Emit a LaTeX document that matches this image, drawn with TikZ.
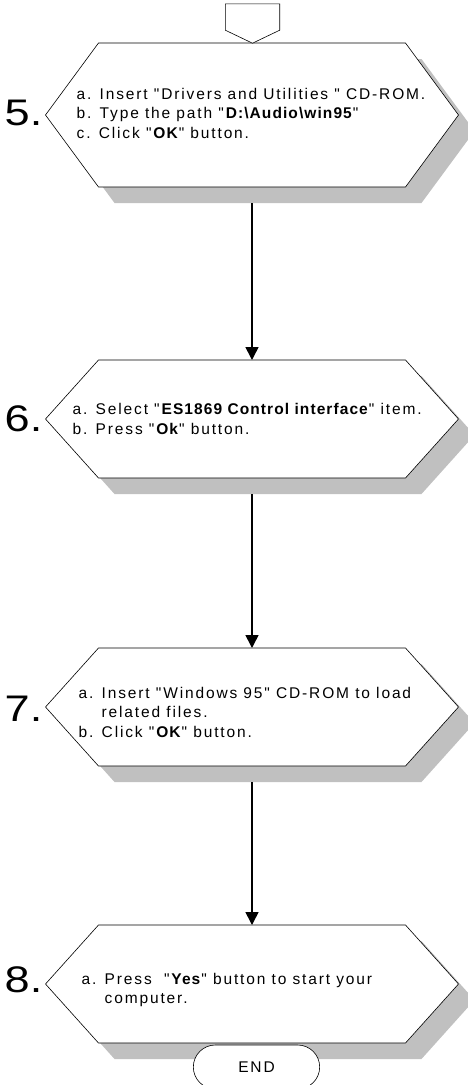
\documentclass[tikz,border=0pt]{standalone}
\usepackage{fontspec}
\setmainfont{Liberation Sans}
\newfontfamily\stepnumfont[FakeStretch=1.22]{Liberation Sans}
\newfontfamily\steptextfont[LetterSpace=12,BoldFeatures={LetterSpace=7}]{Liberation Sans}
\usetikzlibrary{arrows.meta, positioning, calc, backgrounds, shapes.misc}
\definecolor{shadowgray}{RGB}{192,192,192}
\tikzset{
  hexnode/.style={rectangle, minimum width=413bp, inner sep=0pt, outer sep=0pt},
  steptext/.style={anchor=west, align=left, inner sep=0pt,
    font=\steptextfont\fontsize{15.5bp}{19.5bp}\selectfont},
  stepnum/.style={anchor=east, inner sep=0pt,
    font=\stepnumfont\fontsize{37bp}{37bp}\selectfont},
  endnode/.style={rounded rectangle, draw, fill=white, minimum width=133bp,
    minimum height=44bp, line width=0.6bp,
    font=\steptextfont\fontsize{15.5bp}{17bp}\selectfont},
  frame/.style={draw, fill=white, line width=0.6bp},
  flowarrow/.style={-{Triangle[width=13bp,length=13bp]}, line width=1.6bp}
}
% hexagon outline round a node, shifted by #2
\newcommand{\hexoutline}[2]{($(#1.west)+#2$)
  -- ($(#1.north west)+(53bp,0bp)+#2$) -- ($(#1.north east)+(-53bp,0bp)+#2$)
  -- ($(#1.east)+#2$)
  -- ($(#1.south east)+(-53bp,0bp)+#2$) -- ($(#1.south west)+(53bp,0bp)+#2$)
  -- cycle}

\begin{document}
\begin{tikzpicture}[x=1bp, y=-1bp]
  \useasboundingbox (0,0) rectangle (468,1085);

  % off-page entry
  \node[inner sep=0pt, minimum width=54bp, minimum height=39bp] (entry) at (252.5,23.5) {};
  \draw[frame] (entry.north west) -- (entry.north east)
    -- ([yshift=13bp]entry.south east) -- (entry.south)
    -- ([yshift=13bp]entry.south west) -- cycle;

  % steps
  \node[hexnode, minimum height=144bp] (hex5) at (252,115) {};
  \node[hexnode, minimum height=118bp] (hex6) at (252,419) {};
  \node[hexnode, minimum height=118bp] (hex7) at (252,707) {};
  \node[hexnode, minimum height=118bp] (hex8) at (252,984) {};

  \begin{scope}[on background layer]
    \foreach \h in {hex5,hex6,hex7,hex8}{
      \fill[shadowgray] \hexoutline{\h}{(16bp,-16bp)};
      \draw[frame] \hexoutline{\h}{(0bp,0bp)};
    }
  \end{scope}

  \node[stepnum] (num5) at ([xshift=-3bp,yshift=2bp]hex5.west) {5.};
  \node[stepnum] (num6) at ([xshift=-3bp]hex6.west) {6.};
  \node[stepnum] (num7) at ([xshift=-3bp,yshift=-2bp]hex7.west) {7.};
  \node[stepnum] (num8) at ([xshift=-3bp,yshift=4bp]hex8.west) {8.};

  \node[steptext] (txt5) at ([xshift=31bp,yshift=2bp]hex5.west)
    {a. Insert "Drivers and Utilities " CD-ROM.\\
     b. Type the path "\textbf{D:\textbackslash Audio\textbackslash win95}"\\
     c. Click "\textbf{OK}" button.};
  \node[steptext] (txt6) at ([xshift=27bp]hex6.west)
    {a. Select "\textbf{ES1869 Control interface}" item.\\
     b. Press "\textbf{Ok}" button.};
  \node[steptext] (txt7) at ([xshift=33bp,yshift=-5bp]hex7.west)
    {a. Insert "Windows 95" CD-ROM to load\\
     \phantom{a. }related files.\\
     b. Click "\textbf{OK}" button.};
  \node[steptext] (txt8) at ([xshift=36bp,yshift=-6bp]hex8.west)
    {a. Press\ \ "\textbf{Yes}" button to start your\\
     \phantom{a. }computer.};

  \draw[flowarrow] ([yshift=-16bp]hex5.south) -- (hex6.north);
  \draw[flowarrow] ([yshift=-16bp]hex6.south) -- (hex7.north);
  \draw[flowarrow] ([yshift=-16bp]hex7.south) -- (hex8.north);

  \node[endnode] (end) at (256.5,1067) {END};
\end{tikzpicture}
\end{document}
